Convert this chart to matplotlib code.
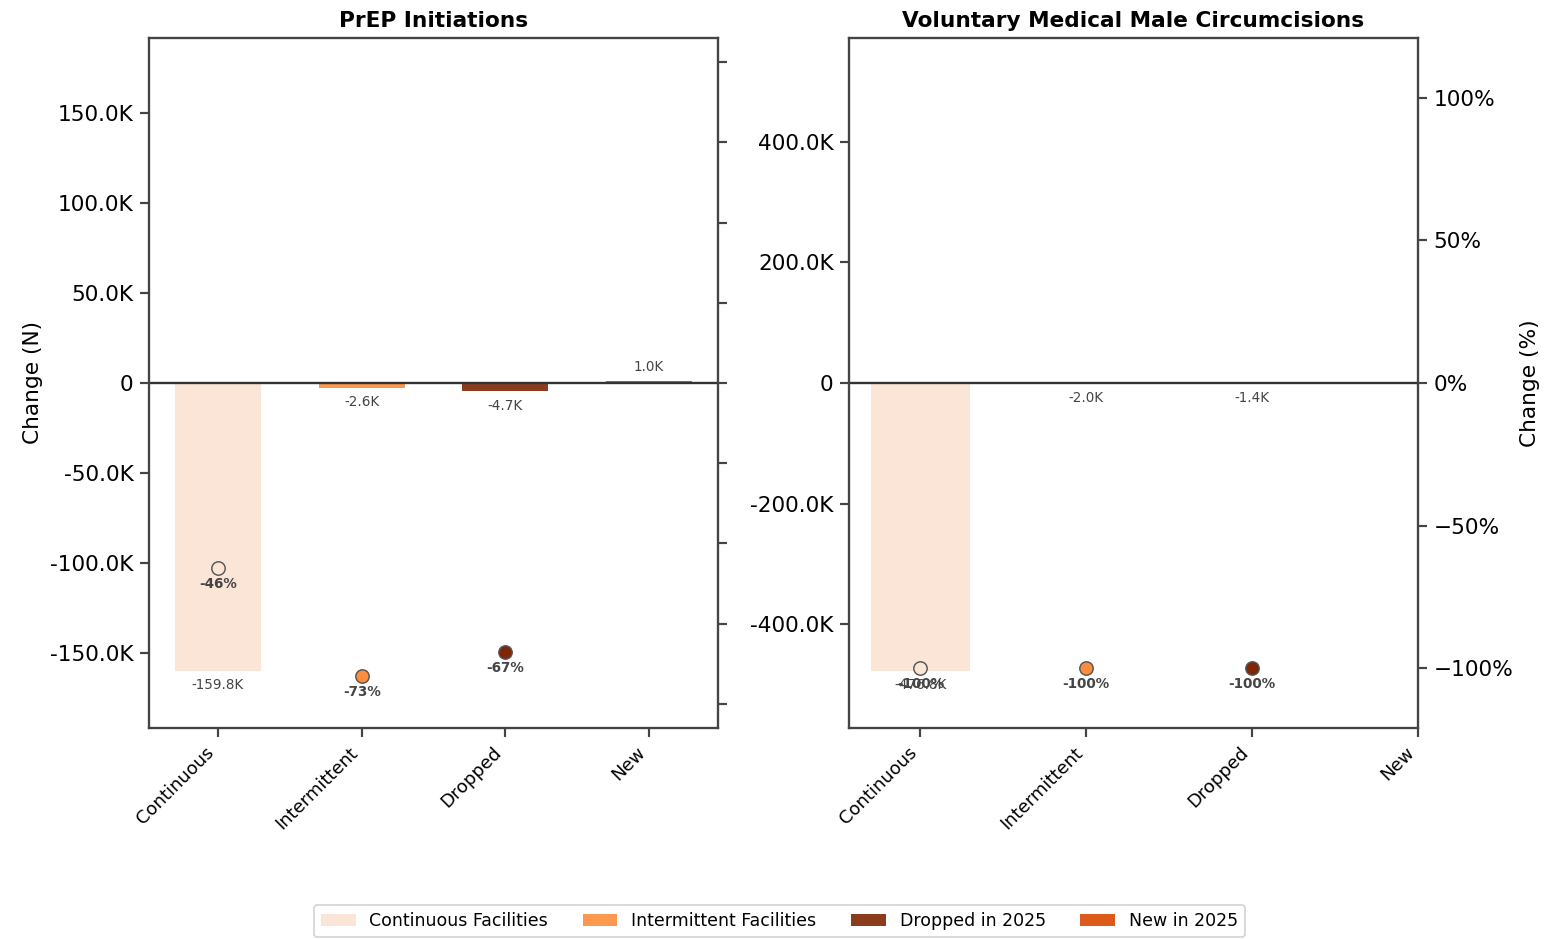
import numpy as np
from matplotlib import pyplot as plt
from matplotlib.patches import Patch
from matplotlib.ticker import FuncFormatter, PercentFormatter

# Datos -------------------------------------------------------------------------

categories = ["Continuous", "Intermittent", "Dropped", "New"]
legend_labels = ["Continuous Facilities", "Intermittent Facilities", "Dropped in 2025", "New in 2025"]

prep_change = [-159800, -2600, -4700, 1000]
prep_pct = [-46, -73, -67, None]

vmmc_change = [-476800, -2000, -1400]
vmmc_pct = [-100, -100, -100]

bar_colors = ["#fae3d3", "#fd8d3c", "#7f2704", "#d94801"]
dot_colors = ["#fbe6d6", "#fd8d3c", "#7f2704", "#d94801"]


def fmt_k(x, pos=None):
    if x == 0:
        return "0"
    return f"{x / 1000:.1f}K"


def panel(ax, title, change, pct, pct_lim, show_pct_labels):
    xs = np.arange(len(change))
    ax.bar(xs, change, width=0.6, color=bar_colors[:len(change)], alpha=0.9, zorder=2)
    ax.axhline(0, color="#333333", lw=1.3, zorder=3)

    m = max(abs(v) for v in change) * 1.2
    ax.set_ylim(-m, m)
    ax.yaxis.set_major_formatter(FuncFormatter(fmt_k))
    ax.set_xticks(range(len(categories)))
    ax.set_xticklabels(categories, rotation=45, ha="right", fontsize=10)
    # que se vean todas las categorias aunque no haya barra
    lo, hi = ax.get_xlim()
    ax.set_xlim(lo, max(hi, len(categories) - 1))
    ax.tick_params(axis="y", labelsize=12)
    ax.set_title(title, fontsize=12, fontweight="bold")

    # etiquetas de valores en las barras
    for x, v in zip(xs, change):
        if v < 0:
            ax.annotate(fmt_k(v), (x, v), xytext=(0, -4), textcoords="offset points",
                        ha="center", va="top", fontsize=7.5, color="#444444")
        else:
            ax.annotate(fmt_k(v), (x, v), xytext=(0, 4), textcoords="offset points",
                        ha="center", va="bottom", fontsize=7.5, color="#444444")

    # eje secundario con porcentajes
    ax2 = ax.twinx()
    for x, p in zip(xs, pct):
        if p is None:
            continue
        ax2.scatter([x], [p], s=55, color=dot_colors[x], edgecolor="#555555",
                    linewidth=0.8, zorder=4)
        ax2.annotate(f"{p:.0f}%", (x, p), xytext=(0, -5), textcoords="offset points",
                     ha="center", va="top", fontsize=7.5, fontweight="bold", color="#444444")
    ax2.set_ylim(-pct_lim, pct_lim)
    ax2.tick_params(axis="y", labelsize=12)
    if show_pct_labels:
        ax2.yaxis.set_major_formatter(PercentFormatter(xmax=100, decimals=0))
        ax2.set_ylabel("Change (%)", fontsize=12)
    else:
        ax2.tick_params(axis="y", labelright=False)

    for a in (ax, ax2):
        for s in a.spines.values():
            s.set_color("#444444")
            s.set_linewidth(1.2)
        a.tick_params(color="#444444", width=1.2, length=5)
    return ax2


def main():
    fig = plt.figure(figsize=(1559 / 130, 939 / 130), dpi=130)
    ax1 = fig.add_axes([149 / 1559, 1 - 728 / 939, 569 / 1559, 690 / 939])
    ax2 = fig.add_axes([849 / 1559, 1 - 728 / 939, 569 / 1559, 690 / 939])

    panel(ax1, "PrEP Initiations", prep_change, prep_pct, 86, False)
    panel(ax2, "Voluntary Medical Male Circumcisions", vmmc_change, vmmc_pct, 121, True)
    ax1.set_ylabel("Change (N)", fontsize=12)

    handles = [Patch(facecolor=c, alpha=0.9) for c in bar_colors]
    fig.legend(handles, legend_labels, loc="lower center", ncol=4, fontsize=9.6,
               bbox_to_anchor=(0.5, 0.0), borderaxespad=0.1)

    fig.savefig("out.png", dpi=130)


if __name__ == "__main__":
    main()
